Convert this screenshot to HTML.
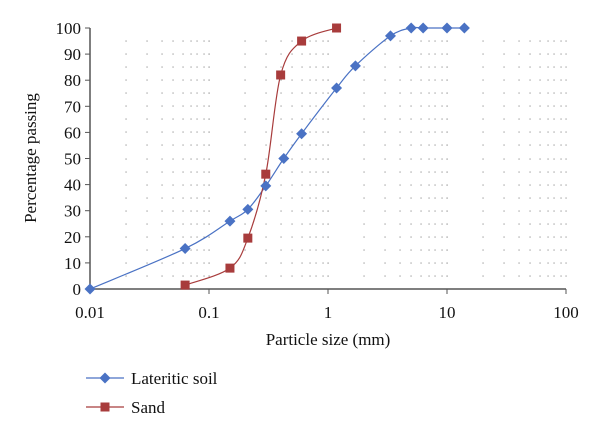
<!DOCTYPE html>
<html><head><style>body{margin:0;background:#fff}svg{display:block}text{font-family:"Liberation Serif",serif;fill:#111}</style></head>
<body>
<svg id="s" width="600" height="434" xmlns="http://www.w3.org/2000/svg"></svg>
<script>
const s=document.getElementById('s');
const X0=90,PX=119,Y0=289,PY=2.61;
const fx=v=>X0+PX*Math.log10(v/0.01), fy=v=>Y0-PY*v;
let h='';
for(let d=0;d<4;d++)for(let m=1;m<=10;m++){if(d==0&&m==1)continue;const x=Math.round(fx(0.01*Math.pow(10,d)*m));
for(let v=5;v<=95;v+=5){const y=Math.round(fy(v));h+=`<rect x="${x-0.5}" y="${y-0.5}" width="1.1" height="1.1" fill="#888"/>`;}}
h+=`<line x1="${X0}" y1="${fy(100)}" x2="${X0}" y2="${Y0}" stroke="#555" stroke-width="1.5"/>`;
h+=`<line x1="${X0}" y1="${Y0}" x2="${fx(100)}" y2="${Y0}" stroke="#555" stroke-width="1.5"/>`;
for(let v=0;v<=100;v+=10){const y=fy(v);h+=`<line x1="${X0-5}" y1="${y}" x2="${X0}" y2="${y}" stroke="#555"/><text x="${X0-9}" y="${y+6}" font-size="17" text-anchor="end">${v}</text>`;}
[0.01,0.1,1,10,100].forEach(v=>{const x=fx(v);h+=`<line x1="${x}" y1="${Y0}" x2="${x}" y2="${Y0+5}" stroke="#555"/><text x="${x}" y="${Y0+29}" font-size="17" text-anchor="middle">${v}</text>`;});
h+=`<text x="328" y="345" font-size="17" text-anchor="middle">Particle size (mm)</text>`;
h+=`<text transform="translate(36 158) rotate(-90)" font-size="17" text-anchor="middle">Percentage passing</text>`;
function path(pts){pts=pts.map(p=>[fx(p[0]),fy(p[1])]);let d=`M${pts[0]}`;for(let i=0;i<pts.length-1;i++){const p0=pts[i-1]||pts[i],p1=pts[i],p2=pts[i+1],p3=pts[i+2]||p2;
const c1=[p1[0]+(p2[0]-p0[0])/6,p1[1]+(p2[1]-p0[1])/6],c2=[p2[0]-(p3[0]-p1[0])/6,p2[1]-(p3[1]-p1[1])/6];d+=` C${c1} ${c2} ${p2}`;}return d;}
const lat=[[0.01,0],[0.063,15.5],[0.15,26],[0.212,30.5],[0.3,39.5],[0.425,50],[0.6,59.5],[1.18,77],[1.7,85.5],[3.35,97],[5,100],[6.3,100],[10,100],[14,100]];
const sand=[[0.063,1.5],[0.15,8],[0.212,19.5],[0.3,44],[0.4,82],[0.6,95],[1.18,100]];
h+=`<path d="${path(lat)}" fill="none" stroke="#4a72c4" stroke-width="1.2"/>`;
h+=`<path d="${path(sand)}" fill="none" stroke="#a83c3c" stroke-width="1.2"/>`;
const dia=(x,y)=>`<path d="M${x} ${y-5.5}L${x+5.5} ${y}L${x} ${y+5.5}L${x-5.5} ${y}Z" fill="#4a72c4"/>`;
const sq=(x,y)=>`<rect x="${x-4.5}" y="${y-4.5}" width="9" height="9" fill="#a83c3c"/>`;
lat.forEach(p=>h+=dia(fx(p[0]),fy(p[1])));
sand.forEach(p=>h+=sq(fx(p[0]),fy(p[1])));
h+=`<line x1="86" y1="378" x2="124" y2="378" stroke="#4a72c4" stroke-width="1.2"/>`+dia(105,378)+`<text x="131" y="384" font-size="17">Lateritic soil</text>`;
h+=`<line x1="86" y1="407" x2="124" y2="407" stroke="#a83c3c" stroke-width="1.2"/>`+sq(105,407)+`<text x="131" y="413" font-size="17">Sand</text>`;
s.innerHTML=h;
</script>
</body></html>
